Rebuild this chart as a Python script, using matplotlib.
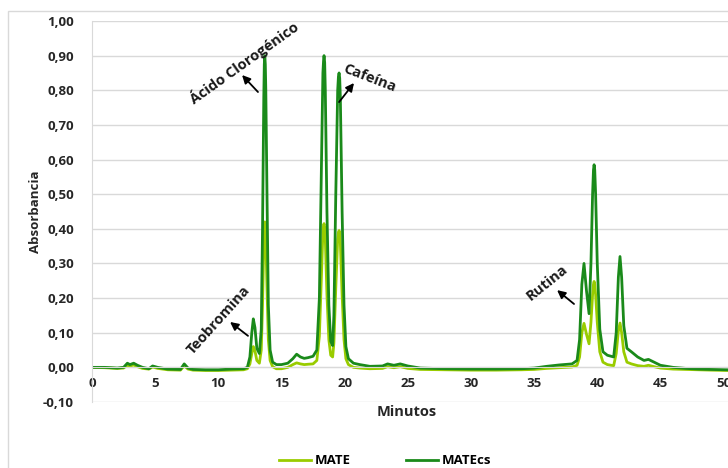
import matplotlib
matplotlib.use("Agg")
import matplotlib.pyplot as plt
from matplotlib.patches import Rectangle

plt.rcParams['font.family'] = ['Open Sans', 'DejaVu Sans']
plt.rcParams['font.weight'] = 'bold'

# retention time (min)
minutos = [0, 1, 2, 2.5, 2.8, 3.0, 3.3, 3.6, 4.0, 4.5,
           4.8, 5.2, 6.0, 7.0, 7.3, 7.6, 8.0, 9.0, 10.0, 11.0,
           12.0, 12.3, 12.5, 12.65, 12.77, 12.9, 13.05, 13.25, 13.4, 13.5,
           13.6, 13.64, 13.68, 13.72, 13.76, 13.86, 13.96, 14.1, 14.3, 14.6,
           15.0, 15.5, 15.9, 16.2, 16.5, 16.8, 17.1, 17.5, 17.8, 18.0,
           18.15, 18.28, 18.33, 18.37, 18.42, 18.47, 18.6, 18.75, 18.9, 19.05,
           19.15, 19.3, 19.45, 19.51, 19.56, 19.61, 19.66, 19.8, 19.95, 20.1,
           20.3, 20.7, 21.2, 22.0, 23.0, 23.4, 23.9, 24.4, 25.0, 26.0,
           28.0, 30.0, 32.0, 34.0, 35.0, 36.0, 37.0, 38.0, 38.4, 38.6,
           38.78, 38.95, 39.15, 39.35, 39.5, 39.63, 39.7, 39.75, 39.8, 39.87,
           40.0, 40.2, 40.45, 40.8, 41.1, 41.3, 41.5, 41.67, 41.8, 41.93,
           42.1, 42.35, 42.7, 43.2, 43.7, 44.05, 44.5, 45.0, 46.0, 47.0,
           48.0, 49.0, 50.3]

mate_cs = [0.000, 0.000, -0.002, 0.000, 0.012, 0.008, 0.012, 0.006, 0.000, -0.004,
           0.004, 0.000, -0.005, -0.006, 0.010, -0.002, -0.006, -0.007, -0.007, -0.005,
           -0.004, 0.000, 0.030, 0.100, 0.140, 0.115, 0.055, 0.040, 0.110, 0.400,
           0.780, 0.875, 0.900, 0.875, 0.800, 0.480, 0.180, 0.050, 0.015, 0.008,
           0.008, 0.012, 0.025, 0.038, 0.030, 0.026, 0.028, 0.032, 0.050, 0.200,
           0.550, 0.850, 0.885, 0.900, 0.880, 0.800, 0.450, 0.180, 0.075, 0.063,
           0.150, 0.500, 0.800, 0.840, 0.850, 0.835, 0.780, 0.450, 0.180, 0.060,
           0.025, 0.012, 0.008, 0.003, 0.004, 0.010, 0.006, 0.010, 0.004, -0.002,
           -0.004, -0.005, -0.005, -0.004, -0.002, 0.003, 0.007, 0.010, 0.020, 0.080,
           0.240, 0.300, 0.220, 0.155, 0.300, 0.500, 0.570, 0.585, 0.570, 0.500,
           0.300, 0.110, 0.045, 0.035, 0.032, 0.030, 0.100, 0.260, 0.320, 0.260,
           0.120, 0.055, 0.045, 0.030, 0.020, 0.023, 0.015, 0.006, 0.000, -0.003,
           -0.005, -0.006, -0.007]

mate = [0.000, -0.001, -0.003, -0.002, 0.006, 0.004, 0.007, 0.002, -0.003, -0.005,
        0.001, -0.003, -0.007, -0.008, 0.004, -0.005, -0.008, -0.009, -0.009, -0.008,
        -0.007, -0.004, 0.010, 0.040, 0.060, 0.048, 0.020, 0.012, 0.050, 0.180,
        0.360, 0.410, 0.420, 0.410, 0.370, 0.220, 0.080, 0.020, 0.002, -0.004,
        -0.004, 0.000, 0.008, 0.013, 0.010, 0.008, 0.009, 0.010, 0.020, 0.090,
        0.250, 0.390, 0.410, 0.415, 0.405, 0.370, 0.210, 0.080, 0.035, 0.030,
        0.070, 0.230, 0.370, 0.390, 0.395, 0.390, 0.360, 0.210, 0.080, 0.025,
        0.008, 0.000, -0.002, -0.004, -0.003, 0.002, -0.001, 0.002, -0.003, -0.006,
        -0.007, -0.008, -0.008, -0.007, -0.006, -0.003, -0.001, 0.001, 0.006, 0.030,
        0.100, 0.127, 0.095, 0.068, 0.130, 0.210, 0.240, 0.248, 0.240, 0.210,
        0.130, 0.045, 0.015, 0.008, 0.006, 0.005, 0.040, 0.105, 0.128, 0.100,
        0.045, 0.015, 0.010, 0.005, 0.003, 0.006, 0.002, -0.002, -0.005, -0.006,
        -0.007, -0.008, -0.009]

x_ticks = [0, 5, 10, 15, 20, 25, 30, 35, 40, 45, 50]
y_ticks = [-0.1, 0.0, 0.1, 0.2, 0.3, 0.4, 0.5, 0.6, 0.7, 0.8, 0.9, 1.0]
y_labels = ['-0,10', '0,00', '0,10', '0,20', '0,30', '0,40', '0,50',
            '0,60', '0,70', '0,80', '0,90', '1,00']

# compound labels: (text, text pos, rotation, arrow head, arrow tail)
compuestos = [
    ('Ácido Clorogénico', (12.03, 0.881), 35.5, (11.88, 0.844), (13.14, 0.795)),
    ('Cafeína', (21.93, 0.836), -21, (20.74, 0.821), (19.56, 0.766)),
    ('Teobromina', (10.05, 0.136), 48, (10.93, 0.131), (12.35, 0.091)),
    ('Rutina', (36.0, 0.245), 38.7, (36.82, 0.223), (38.16, 0.183)),
]

fig = plt.figure(figsize=(7.28, 4.68), dpi=100)
ax = fig.add_axes([92 / 728, 66 / 468, 636 / 728, 381 / 468])

grid_c = '#d9d9d9'
txt_c = '#262626'
ax.plot(minutos, mate, color='#99cc00', lw=2.0, label='MATE')
ax.plot(minutos, mate_cs, color='#1a8a1a', lw=2.0, label='MATEcs')

ax.set_xlim(0, 50.35)
ax.set_ylim(-0.1, 1.0)
ax.set_xticks(x_ticks)
ax.set_yticks(y_ticks)
ax.set_yticklabels(y_labels)
ax.yaxis.grid(True, color=grid_c, lw=1)
ax.set_axisbelow(True)

for s in ['top', 'right']:
    ax.spines[s].set_visible(False)
ax.spines['left'].set_color(grid_c)
ax.spines['bottom'].set_position(('data', 0))
ax.spines['bottom'].set_color(grid_c)
ax.tick_params(length=0, labelsize=9.5, colors=txt_c)
ax.tick_params(axis='y', pad=13)
ax.tick_params(axis='x', pad=7)

ax.set_ylabel('Absorbancia', fontsize=9.5, fontweight='bold', color=txt_c)
ax.set_xlabel('Minutos', fontsize=10.5, fontweight='bold', color=txt_c)
ax.xaxis.label.set_va('center')
ax.xaxis.set_label_coords((407 - 92) / 636, -10 / 381)
ax.yaxis.label.set_va('center')
ax.yaxis.set_label_coords(-(92 - 35) / 636, 0.5)

for nombre, pos, rot, head, tail in compuestos:
    ax.text(pos[0], pos[1], nombre, rotation=rot, rotation_mode='anchor',
            ha='center', va='center', fontsize=10.5, fontweight='bold', color='#1a1a1a')
    ax.annotate('', xy=head, xytext=tail,
                arrowprops=dict(arrowstyle='-|>', color='black', lw=1.3,
                                mutation_scale=12, shrinkA=0, shrinkB=0))

fig.legend(loc='center', bbox_to_anchor=(385 / 728, 1 - 461 / 468), ncol=2,
           frameon=False, fontsize=9.5, handlelength=2.4, handletextpad=0.3,
           columnspacing=4.2)

fig.add_artist(Rectangle((8 / 728, -0.2), 2.0, 1.2 - 11 / 468, transform=fig.transFigure,
                         fill=False, edgecolor=grid_c, lw=1))

fig.savefig('out.png', dpi=100)
